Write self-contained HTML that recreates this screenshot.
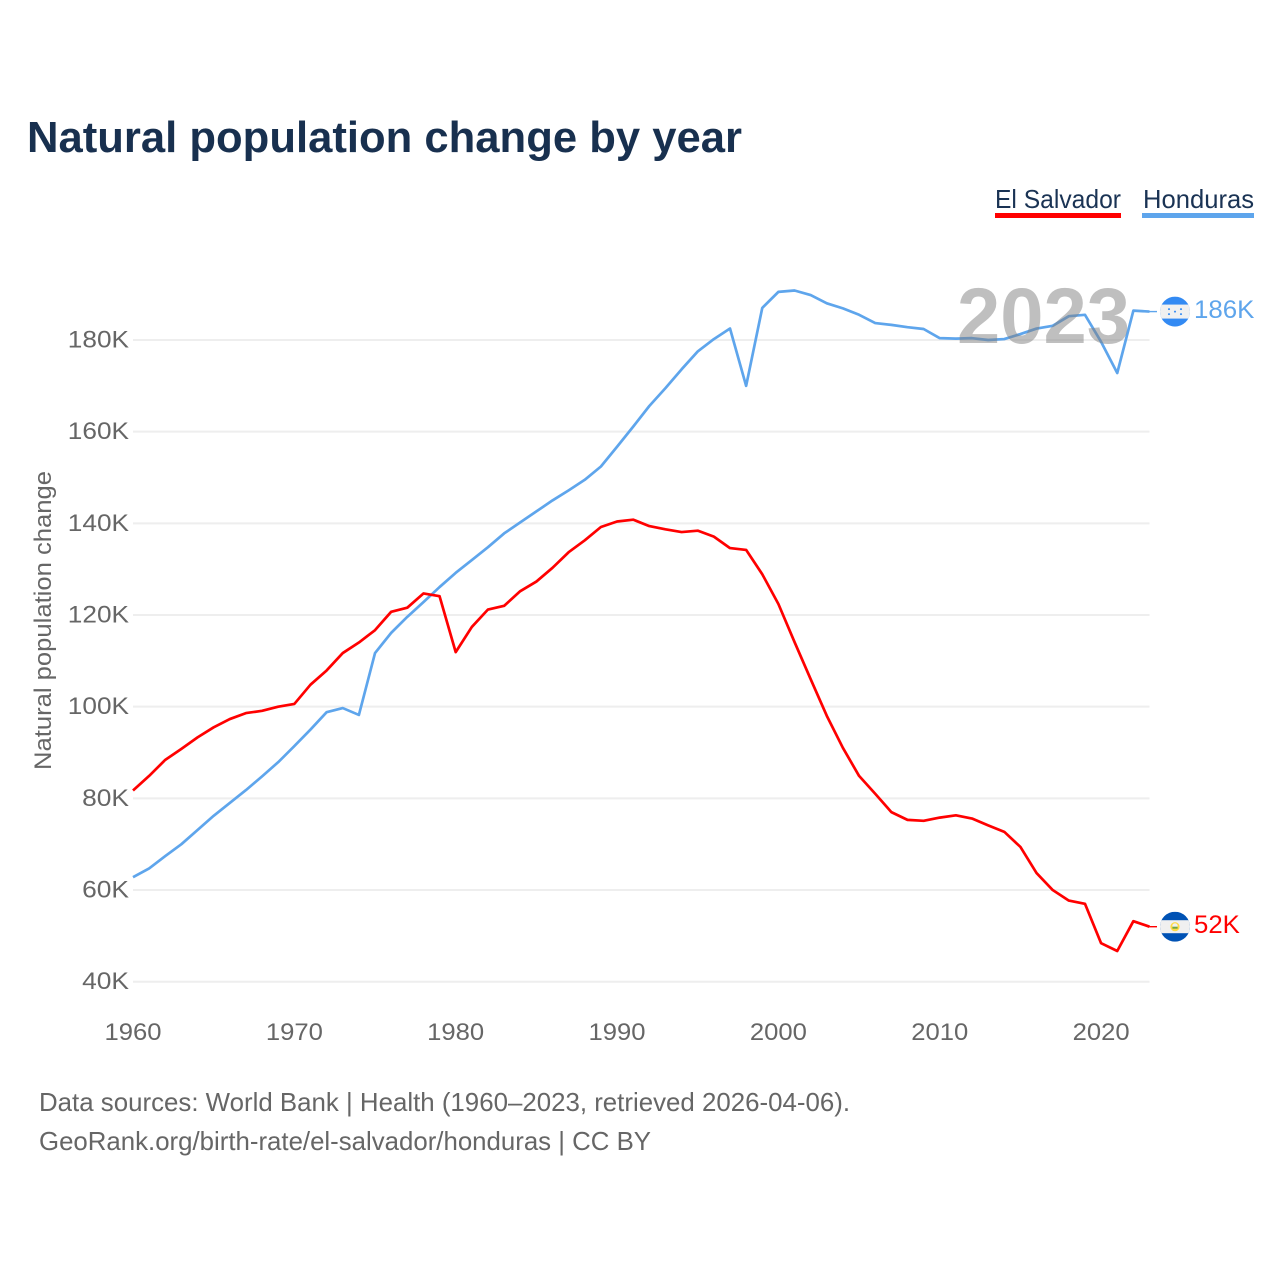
<!DOCTYPE html>
<html lang="en">
<head>
<meta charset="utf-8">
<title>Natural population change by year</title>
<style>
html,body{margin:0;padding:0;background:#fff;width:1280px;height:1280px;overflow:hidden}
svg{display:block;font-family:"Liberation Sans",sans-serif}
</style>
</head>
<body>
<svg id="chart" width="1280" height="1280" viewBox="0 0 1280 1280" xmlns="http://www.w3.org/2000/svg">
  <rect width="1280" height="1280" fill="#fff"/>
  <text x="27" y="152" font-size="44" font-weight="700" fill="#18304f" textLength="715" lengthAdjust="spacingAndGlyphs">Natural population change by year</text>

  <g>
    <text x="995" y="208" font-size="26" fill="#1a3354" textLength="126" lengthAdjust="spacingAndGlyphs">El Salvador</text>
    <rect x="995" y="213" width="126" height="5" fill="#ff0000"/>
  </g>
  <g>
    <text x="1143" y="208" font-size="26" fill="#1a3354" textLength="111" lengthAdjust="spacingAndGlyphs">Honduras</text>
    <rect x="1142" y="213" width="112" height="5" fill="#5ea5ec"/>
  </g>

  <g id="grid"></g>
  <g id="yticks"></g>
  <g id="xticks"></g>
  <text transform="translate(51 620.5) rotate(-90)" text-anchor="middle" font-size="24" fill="#666" textLength="299" lengthAdjust="spacingAndGlyphs">Natural population change</text>

  <g id="series"></g>

  <text x="957" y="343" font-size="79" font-weight="700" fill="#808080" fill-opacity="0.5" textLength="173" lengthAdjust="spacingAndGlyphs">2023</text>

  <defs>
    <clipPath id="flag-clip"><circle cx="0" cy="0" r="15"/></clipPath>
  </defs>
  <g id="flag-honduras">
    <g clip-path="url(#flag-clip)">
      <rect x="-15" y="-15" width="30" height="30" fill="#338af3"/>
      <rect x="-15" y="-7" width="30" height="14" fill="#f0f0f0"/>
      <circle cx="-6" cy="-2.5" r="1" fill="#338af3"/>
      <circle cx="6" cy="-2.5" r="1" fill="#338af3"/>
      <circle cx="0" cy="0" r="1" fill="#338af3"/>
      <circle cx="-6" cy="2.5" r="1" fill="#338af3"/>
      <circle cx="6" cy="2.5" r="1" fill="#338af3"/>
    </g>
  </g>
  <g id="flag-el-salvador">
    <g clip-path="url(#flag-clip)">
      <rect x="-15" y="-15" width="30" height="30" fill="#0052b4"/>
      <rect x="-15" y="-6.5" width="30" height="13" fill="#f0f0f0"/>
      <circle cx="0" cy="0" r="4.6" fill="#ffda44"/>
      <circle cx="0" cy="-0.8" r="2.7" fill="#f0f0f0"/>
      <rect x="-2.6" y="0" width="5.2" height="2" fill="#6da544"/>
    </g>
  </g>
  <g id="end-labels"></g>

  <g>
    <text x="39" y="1111" font-size="26" fill="#666" textLength="811" lengthAdjust="spacingAndGlyphs">Data sources: World Bank | Health (1960–2023, retrieved 2026-04-06).</text>
    <text x="39" y="1150" font-size="26" fill="#666" textLength="612" lengthAdjust="spacingAndGlyphs">GeoRank.org/birth-rate/el-salvador/honduras | CC BY</text>
  </g>
</svg>
<script>
const startYear = 1960;
const yTickValues = [40, 60, 80, 100, 120, 140, 160, 180];
const xTickYears = [1960, 1970, 1980, 1990, 2000, 2010, 2020];
const elSalvadorValues = [81.7,84.9,88.4,90.8,93.3,95.5,97.3,98.6,99.1,100.0,100.6,104.8,107.9,111.7,114.0,116.7,120.7,121.6,124.7,124.1,111.9,117.4,121.2,122.0,125.2,127.3,130.3,133.7,136.3,139.2,140.4,140.8,139.4,138.7,138.1,138.4,137.1,134.6,134.2,128.9,122.4,114.1,106.0,98.0,91.0,84.9,81.0,77.0,75.3,75.1,75.8,76.3,75.6,74.1,72.7,69.4,63.7,60.0,57.7,57.0,48.4,46.7,53.2,52.0];
const hondurasValues = [62.8,64.7,67.4,70.0,73.1,76.2,79.0,81.8,84.8,87.9,91.4,95.0,98.8,99.7,98.2,111.7,116.1,119.6,122.8,126.1,129.2,132.0,134.8,137.8,140.2,142.6,145.0,147.2,149.5,152.4,156.7,161.1,165.6,169.5,173.6,177.5,180.2,182.5,170.0,187.0,190.5,190.8,189.8,188.0,186.9,185.5,183.7,183.3,182.8,182.4,180.4,180.3,180.4,180.0,180.2,181.3,182.5,183.1,185.2,185.5,179.6,172.8,186.4,186.2];

const NS = 'http://www.w3.org/2000/svg';
function xPos(year) { return 133 + (year - startYear) * 16.135; }
function yPos(v) { return 981.7 - (v - 40) * 4.5836; }
function mk(tag, attrs, parent) {
  const el = document.createElementNS(NS, tag);
  for (const k in attrs) el.setAttribute(k, attrs[k]);
  parent.appendChild(el);
  return el;
}
const gridG = document.getElementById('grid');
const yG = document.getElementById('yticks');
const xG = document.getElementById('xticks');
const seriesG = document.getElementById('series');
const endG = document.getElementById('end-labels');

yTickValues.forEach(function (v) {
  const line = mk('line', {x1: 133, x2: 1149.5, y1: yPos(v), y2: yPos(v), stroke: '#eeeeee', 'stroke-width': 2}, gridG);
  
  
  const label = v + 'K';
  const t = mk('text', {x: 129, y: yPos(v) + 7.5, 'text-anchor': 'end', 'font-size': 24, fill: '#666', textLength: label.length * 14.3 + 4, lengthAdjust: 'spacingAndGlyphs'}, yG);
  
  
  t.textContent = label;
});
xTickYears.forEach(function (year) {
  const t = mk('text', {x: xPos(year), y: 1040, 'text-anchor': 'middle', 'font-size': 24, fill: '#666', textLength: 57, lengthAdjust: 'spacingAndGlyphs'}, xG);
  
  
  t.textContent = year;
});
function linePath(values) {
  return values.map(function (v, i) {
    return (i ? 'L' : 'M') + xPos(startYear + i).toFixed(2) + ' ' + yPos(v).toFixed(2);
  }).join(' ');
}
const hondurasLine = mk('path', {d: linePath(hondurasValues), fill: 'none', stroke: '#5ea5ec', 'stroke-width': 2.7, 'stroke-linejoin': 'round'}, seriesG);


const salvadorLine = mk('path', {d: linePath(elSalvadorValues), fill: 'none', stroke: '#ff0000', 'stroke-width': 2.7, 'stroke-linejoin': 'round'}, seriesG);



function placeEnd(values, color, flagId) {
  const last = values[values.length - 1];
  const y = yPos(last);
  const x = xPos(startYear + values.length - 1);
  const c = mk('line', {x1: x, x2: 1157, y1: y, y2: y, stroke: color, 'stroke-width': 1.4}, endG);
  
  
  document.getElementById(flagId).setAttribute('transform', 'translate(1175 ' + y + ')');
  const label = Math.round(last) + 'K';
  const t = mk('text', {x: 1194, y: y + 6.5, 'font-size': 25, fill: color, textLength: label.length * 14.6 + 2, lengthAdjust: 'spacingAndGlyphs'}, endG);
  
  
  t.textContent = label;
}
placeEnd(hondurasValues, '#5ea5ec', 'flag-honduras');
placeEnd(elSalvadorValues, '#ff0000', 'flag-el-salvador');
</script>
</body>
</html>
